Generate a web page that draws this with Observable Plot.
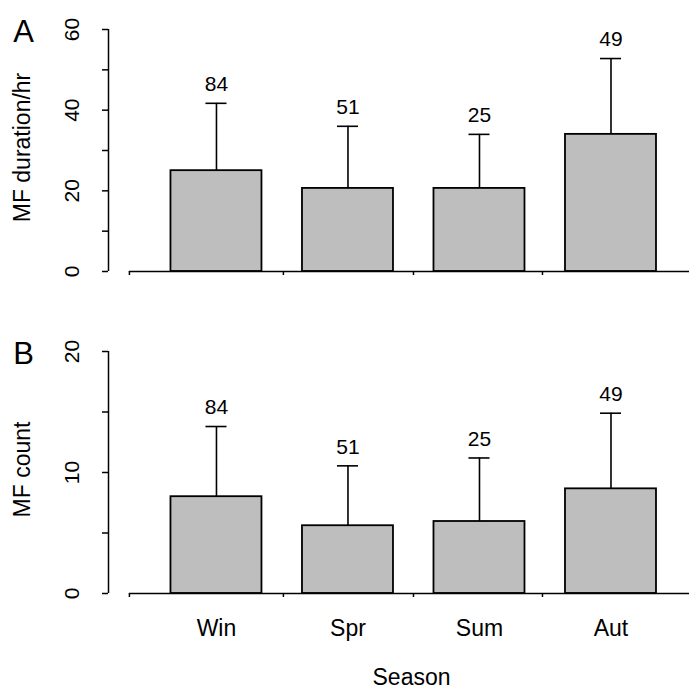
<!DOCTYPE html>
<html>
<head>
<meta charset="utf-8">
<script src="https://cdn.jsdelivr.net/npm/d3@7"></script>
<script src="https://cdn.jsdelivr.net/npm/@observablehq/plot@0.6"></script>
<style>
  html, body { margin: 0; padding: 0; background: white; }
  #chart svg { display: block; }
</style>
</head>
<body>
<div id="chart"></div>
<script>
// ---- data ----
const seasons = ["Win", "Spr", "Sum", "Aut"];
const nObs = [84, 51, 25, 49];
const durMean = [25.0, 20.6, 20.6, 34.0];
const durUpper = [41.7, 36.0, 34.0, 52.8];
const cntMean = [8.0, 5.6, 5.95, 8.65];
const cntUpper = [13.8, 10.55, 11.2, 14.9];
const durTicks = [0, 10, 20, 30, 40, 50, 60];
const durLabels = [0, 20, 40, 60];
const cntTicks = [0, 5, 10, 15, 20];
const cntLabels = [0, 10, 20];
const xTickPos = [-0.662, 0.509, 1.498, 2.479];

const FONT = "'Liberation Sans', Arial, Helvetica, sans-serif";
const XDOMAIN = [-0.821, 3.597];
const HALF = 0.346;
const CAP = 0.08;

function panel({letter, title, mean, upper, ticks, labels, ymax, height, marginTop, marginBottom, showX}) {
  const rows = seasons.map((s, i) => ({s, i, mean: mean[i], upper: upper[i], n: nObs[i]}));
  const marks = [
    Plot.rectY(rows, {x1: d => d.i - HALF, x2: d => d.i + HALF, y1: 0, y2: "mean",
      fill: "#bebebe", stroke: "#000", strokeWidth: 1.8}),
    Plot.ruleX(rows, {x: "i", y1: "mean", y2: "upper", stroke: "#000", strokeWidth: 1.6}),
    Plot.ruleY(rows, {y: "upper", x1: d => d.i - CAP, x2: d => d.i + CAP, stroke: "#000", strokeWidth: 1.6}),
    Plot.text(rows, {x: "i", y: "upper", text: d => String(d.n), dy: -19, lineAnchor: "middle",
      fontSize: 21, fill: "#000"}),
    // y axis
    Plot.ruleX([XDOMAIN[0]], {y1: 0, y2: ymax, stroke: "#000", strokeWidth: 1.5}),
    Plot.axisY({ticks, tickSize: 6, tickFormat: () => "", label: null, stroke: "#000", strokeWidth: 1.5}),
    Plot.text(labels, {y: d => d, text: d => String(d), frameAnchor: "left", dx: -36.5,
      rotate: -90, lineAnchor: "middle", textAnchor: "middle", fontSize: 21, fill: "#000"}),
    Plot.text([title], {frameAnchor: "left", dx: -85.5, dy: -3, rotate: -90, lineAnchor: "middle",
      textAnchor: "middle", fontSize: 23, fill: "#000"}),
    Plot.text([letter], {frameAnchor: "top-left", dx: -85, dy: 3, lineAnchor: "middle",
      textAnchor: "middle", fontSize: 31, fill: "#000"}),
    // x axis
    Plot.ruleY([0], {x1: xTickPos[0], x2: XDOMAIN[1], stroke: "#000", strokeWidth: 1.5}),
    Plot.axisX({ticks: xTickPos, tickSize: 4, tickFormat: () => "", label: null, stroke: "#000", strokeWidth: 1.5})
  ];
  if (showX) {
    marks.push(
      Plot.text(rows, {x: "i", text: "s", frameAnchor: "bottom", dy: 35.5, lineAnchor: "middle",
        fontSize: 23, fill: "#000"}),
      Plot.text(["Season"], {frameAnchor: "bottom", dx: 12.5, dy: 84.5, lineAnchor: "middle",
        fontSize: 23, fill: "#000"})
    );
  }
  return Plot.plot({
    width: 689,
    height,
    marginLeft: 108,
    marginRight: 0,
    marginTop,
    marginBottom,
    x: {type: "linear", domain: XDOMAIN, label: null},
    y: {domain: [0, ymax], label: null},
    style: {fontFamily: FONT, background: "white", overflow: "visible", color: "#000"},
    marks
  });
}

const chart = document.getElementById("chart");
chart.appendChild(panel({letter: "A", title: "MF duration/hr", mean: durMean, upper: durUpper,
  ticks: durTicks, labels: durLabels, ymax: 60, height: 300, marginTop: 29, marginBottom: 29, showX: false}));
chart.appendChild(panel({letter: "B", title: "MF count", mean: cntMean, upper: cntUpper,
  ticks: cntTicks, labels: cntLabels, ymax: 20, height: 389, marginTop: 51, marginBottom: 96, showX: true}));
</script>
</body>
</html>
